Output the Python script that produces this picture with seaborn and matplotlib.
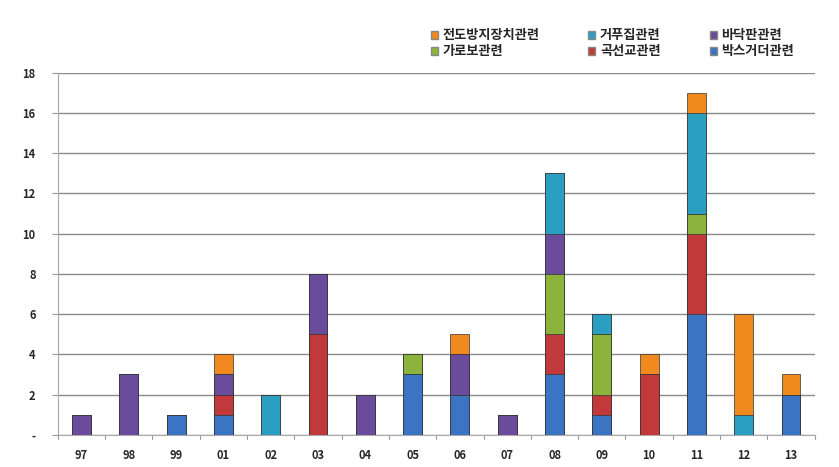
import numpy as np
import pandas as pd
import seaborn as sns
import matplotlib
matplotlib.use("Agg")
import matplotlib.pyplot as plt
import matplotlib.patches as mpatches

# Data (stack order bottom -> top)
years = ["97", "98", "99", "01", "02", "03", "04", "05",
         "06", "07", "08", "09", "10", "11", "12", "13"]
box_girder = [0, 0, 1, 1, 0, 0, 0, 3, 2, 0, 3, 1, 0, 6, 0, 2]
curved = [0, 0, 0, 1, 0, 5, 0, 0, 0, 0, 2, 1, 3, 4, 0, 0]
crossbeam = [0, 0, 0, 0, 0, 0, 0, 1, 0, 0, 3, 3, 0, 1, 0, 0]
deck = [1, 3, 0, 1, 0, 3, 2, 0, 2, 1, 2, 0, 0, 0, 0, 0]
formwork = [0, 0, 0, 0, 2, 0, 0, 0, 0, 0, 3, 1, 0, 5, 1, 0]
overturn = [0, 0, 0, 1, 0, 0, 0, 0, 1, 0, 0, 0, 1, 1, 5, 1]

names = ["박스거더관련", "곡선교관련", "가로보관련", "바닥판관련", "거푸집관련", "전도방지장치관련"]
series = [box_girder, curved, crossbeam, deck, formwork, overturn]
palette = {
    "박스거더관련": "#3a74c2",
    "곡선교관련": "#c2393b",
    "가로보관련": "#8cb33b",
    "바닥판관련": "#6b4b9b",
    "거푸집관련": "#2b9fc2",
    "전도방지장치관련": "#f0891e",
}

sns.set_style("white")
plt.rcParams["font.family"] = ["Noto Sans CJK KR", "DejaVu Sans"]

df = pd.DataFrame(dict(zip(names, series)), index=years)
cum = df.cumsum(axis=1)

fig = plt.figure(figsize=(8.39, 4.67), dpi=100)
ax = fig.add_axes([0.069, 0.069, 0.902, 0.775])

# overlay cumulative bars, tallest first
for name in reversed(names):
    plot_df = pd.DataFrame({"year": years, "value": cum[name].values})
    sns.barplot(
        data=plot_df, x="year", y="value", color=palette[name],
        saturation=1, width=0.4, edgecolor="#333333", linewidth=0.5,
        ax=ax, zorder=3,
    )

ax.set_ylim(0, 18)
ax.set_xlim(-0.5, len(years) - 0.5)
ax.set_yticks(np.arange(0, 19, 2))
ax.set_yticklabels(["-"] + [str(v) for v in range(2, 19, 2)],
                   fontsize=8, fontweight="bold")
ax.set_xticks(np.arange(len(years)))
ax.set_xticklabels(years, fontsize=8, fontweight="bold")
ax.tick_params(axis="x", length=0, pad=10)
ax.tick_params(axis="y", length=4, color="#999999", pad=12, left=True)
for x in np.arange(-0.5, len(years), 1.0):
    ax.plot([x, x], [0, -0.2], color="#999999", lw=0.8, clip_on=False)
ax.grid(axis="y", color="#8a8a8a", linewidth=1.0, zorder=0)
ax.set_axisbelow(True)
ax.set_xlabel("")
ax.set_ylabel("")
for side in ["top", "right"]:
    ax.spines[side].set_visible(False)
ax.spines["left"].set_color("#aaaaaa")
ax.spines["bottom"].set_color("#aaaaaa")

legend_order = ["전도방지장치관련", "가로보관련", "거푸집관련", "곡선교관련", "바닥판관련", "박스거더관련"]
handles = [mpatches.Patch(facecolor=palette[n], edgecolor="#888888", label=n)
           for n in legend_order]
fig.legend(handles=handles, ncol=3, loc="upper left",
           bbox_to_anchor=(0.499, 0.965), frameon=False,
           prop={"family": ["Noto Sans CJK KR"], "weight": "bold", "size": 9.5},
           handlelength=0.55, handleheight=0.55, handletextpad=0.35,
           columnspacing=3.7, labelspacing=0.15)

fig.savefig("out.png", dpi=100)
